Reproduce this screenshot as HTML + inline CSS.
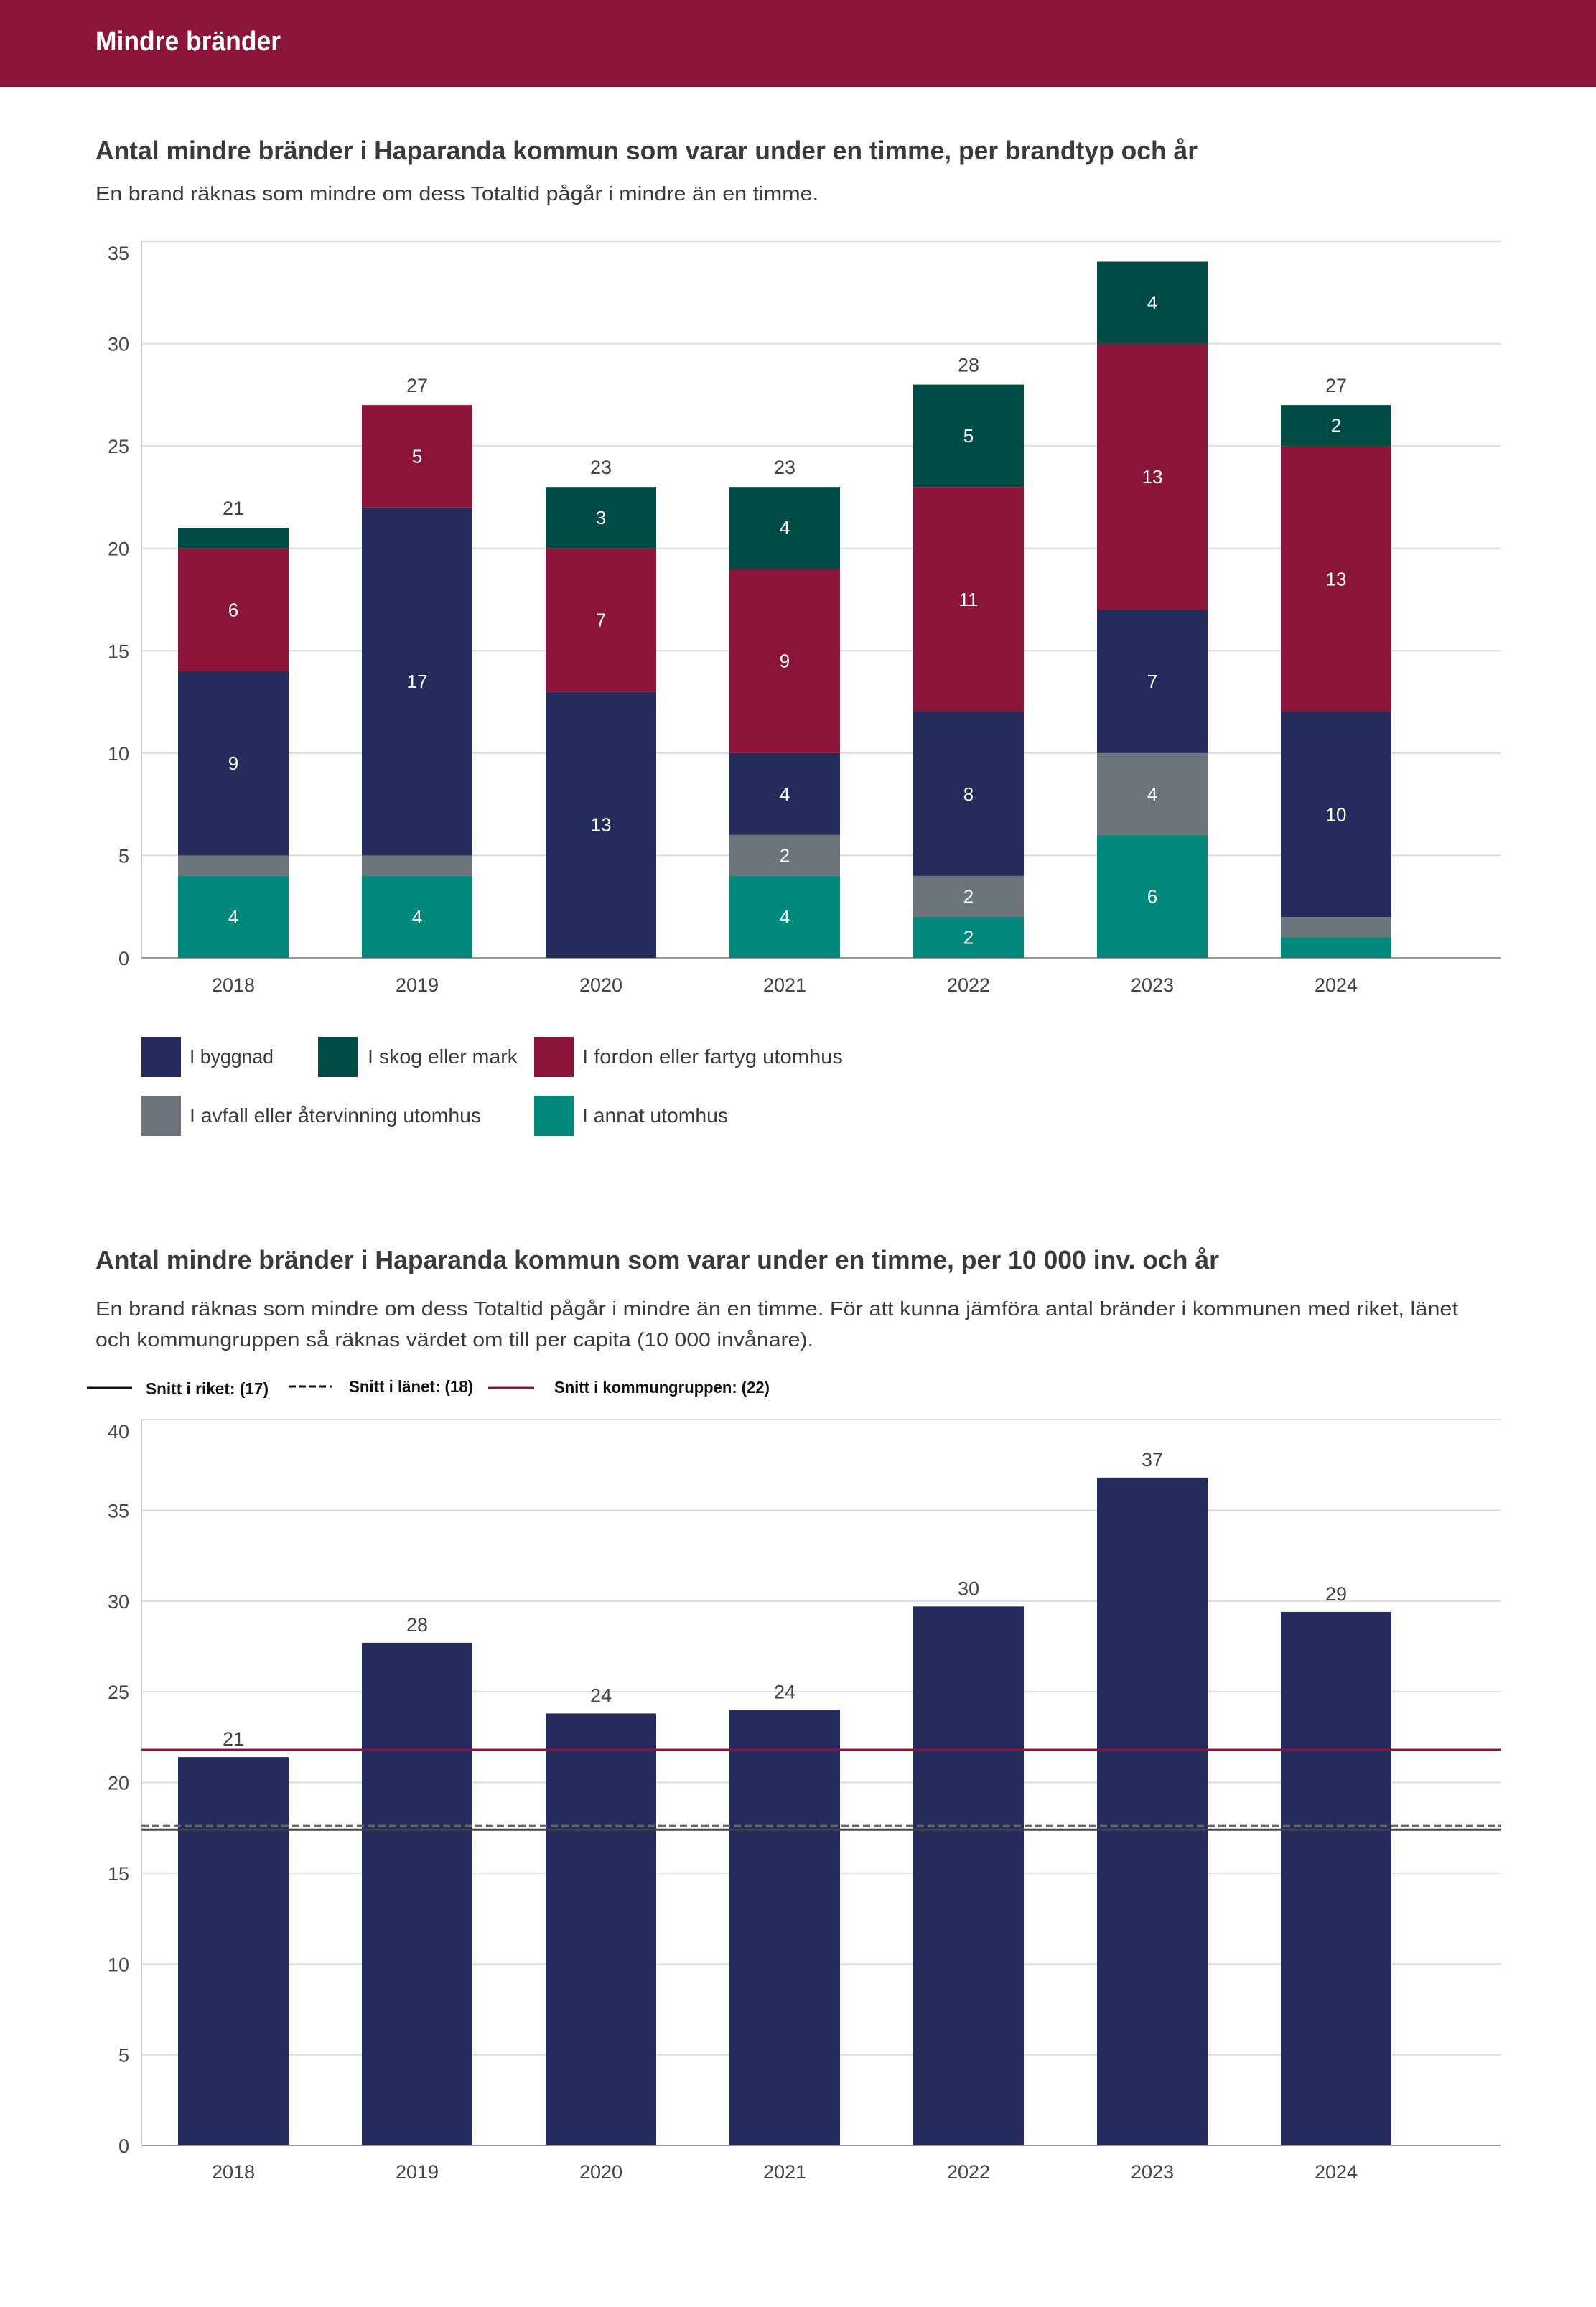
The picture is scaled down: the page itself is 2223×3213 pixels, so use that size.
<!DOCTYPE html>
<html><head><meta charset="utf-8"><style>
html,body{margin:0;padding:0;background:#fff;}
svg{display:block;font-family:"Liberation Sans",sans-serif;}
</style></head><body>
<svg id="page" width="2223" height="3213" viewBox="0 0 2223 3213" xmlns="http://www.w3.org/2000/svg">
<rect x="0" y="0" width="2223" height="121" fill="#8b1538"/>
<text x="133" y="70" font-size="38" font-weight="bold" fill="#fff" textLength="258" lengthAdjust="spacingAndGlyphs">Mindre bränder</text>

<text x="133" y="222" font-size="36" font-weight="bold" fill="#3a3a3a" textLength="1535" lengthAdjust="spacingAndGlyphs">Antal mindre bränder i Haparanda kommun som varar under en timme, per brandtyp och år</text>
<text x="133" y="279" font-size="28" fill="#3a3a3a" textLength="1007" lengthAdjust="spacingAndGlyphs">En brand räknas som mindre om dess Totaltid pågår i mindre än en timme.</text>
<g id="chart1"></g>

<g>
<g><rect x="197" y="1444" width="55" height="56" fill="#252c5c"/><text x="264" y="1481" font-size="28" fill="#3a3a3a" textLength="117" lengthAdjust="spacingAndGlyphs">I byggnad</text></g>
<g><rect x="443" y="1444" width="55" height="56" fill="#004b43"/><text x="512" y="1481" font-size="28" fill="#3a3a3a" textLength="209" lengthAdjust="spacingAndGlyphs">I skog eller mark</text></g>
<g><rect x="744" y="1444" width="55" height="56" fill="#8b1538"/><text x="811" y="1481" font-size="28" fill="#3a3a3a" textLength="363" lengthAdjust="spacingAndGlyphs">I fordon eller fartyg utomhus</text></g>
<g><rect x="197" y="1526" width="55" height="56" fill="#6b737b"/><text x="264" y="1563" font-size="28" fill="#3a3a3a" textLength="406" lengthAdjust="spacingAndGlyphs">I avfall eller återvinning utomhus</text></g>
<g><rect x="744" y="1526" width="55" height="56" fill="#00887a"/><text x="811" y="1563" font-size="28" fill="#3a3a3a" textLength="203" lengthAdjust="spacingAndGlyphs">I annat utomhus</text></g>
</g>

<text x="133" y="1767" font-size="36" font-weight="bold" fill="#3a3a3a" textLength="1565" lengthAdjust="spacingAndGlyphs">Antal mindre bränder i Haparanda kommun som varar under en timme, per 10 000 inv. och år</text>
<text x="133" y="1832" font-size="28" fill="#3a3a3a" textLength="1898" lengthAdjust="spacingAndGlyphs">En brand räknas som mindre om dess Totaltid pågår i mindre än en timme. För att kunna jämföra antal bränder i kommunen med riket, länet</text>
<text x="133" y="1875" font-size="28" fill="#3a3a3a" textLength="1000" lengthAdjust="spacingAndGlyphs">och kommungruppen så räknas värdet om till per capita (10 000 invånare).</text>

<g>
<g><line x1="121" y1="1933" x2="184" y2="1933" stroke="#111" stroke-width="3"/><text x="203" y="1942" font-size="23" font-weight="bold" fill="#111" textLength="171" lengthAdjust="spacingAndGlyphs">Snitt i riket: (17)</text></g>
<g><line x1="403" y1="1931" x2="463" y2="1931" stroke="#111" stroke-width="3" stroke-dasharray="9,5"/><text x="486" y="1939" font-size="23" font-weight="bold" fill="#111" textLength="173" lengthAdjust="spacingAndGlyphs">Snitt i länet: (18)</text></g>
<g><line x1="680" y1="1933" x2="744" y2="1933" stroke="#8b1538" stroke-width="3"/><text x="772" y="1940" font-size="23" font-weight="bold" fill="#111" textLength="300" lengthAdjust="spacingAndGlyphs">Snitt i kommungruppen: (22)</text></g>
</g>
<g id="chart2"></g>
</svg>
<script>
const years = ["2018","2019","2020","2021","2022","2023","2024"];
const annat = [4,4,0,4,2,6,1];
const avfall = [1,1,0,2,2,4,1];
const byggnad = [9,17,13,4,8,7,10];
const fordon = [6,5,7,9,11,13,13];
const skog = [1,0,3,4,5,4,2];
const totalLabels = ["21","27","23","23","28","","27"];
const ticks1 = [0,5,10,15,20,25,30,35];

const perCapita = [21.4,27.7,23.8,24.0,29.7,36.8,29.4];
const perCapitaLabels = ["21","28","24","24","30","37","29"];
const ticks2 = [0,5,10,15,20,25,30,35,40];
const riket = [17.4];
const lanet = [17.6];
const kommungrupp = [21.8];

const NS = "http://www.w3.org/2000/svg";
function mk(tag, attrs, parent){const e=document.createElementNS(NS,tag);for(const k in attrs)e.setAttribute(k,attrs[k]);parent.appendChild(e);return e;}
const plotL=197, plotR=2090, band=256, barW=154;
function xc(i){return plotL+band*(i+0.5);}

// chart 1
const g1=document.getElementById('chart1');
const y1=v=>1334-v*(1334-336)/35;
ticks1.forEach((t,k)=>{
  const l=mk('line',{x1:plotL,x2:plotR,y1:y1(t),y2:y1(t),stroke:t===0?'#999':'#dcdcdc','stroke-width':2},g1);
  
  
  const off=(k===ticks1.length-1)?26:10;
  const tx=mk('text',{x:180,y:y1(t)+off,'font-size':27,fill:'#444','text-anchor':'end'},g1);
  tx.textContent=t;
  
  
});
const ax1=mk('line',{x1:plotL,x2:plotL,y1:336,y2:1334,stroke:'#ccc','stroke-width':2},g1);


const series=[["annat",annat,"#00887a"],["avfall",avfall,"#6b737b"],["byggnad",byggnad,"#252c5c"],["fordon",fordon,"#8b1538"],["skog",skog,"#004b43"]];
years.forEach((yr,i)=>{
  let base=0;
  series.forEach(([nm,arr,col])=>{
    const v=arr[i];
    if(v>0){
      const r=mk('rect',{x:xc(i)-barW/2,y:y1(base+v),width:barW,height:y1(base)-y1(base+v),fill:col},g1);
      
      
      if(v>=2){
        const t=mk('text',{x:xc(i),y:(y1(base)+y1(base+v))/2+9,'font-size':26,fill:'#fff','text-anchor':'middle'},g1);
        t.textContent=v;
        
        
      }
    }
    base+=v;
  });
  if(totalLabels[i]){
    const t=mk('text',{x:xc(i),y:y1(base)-18,'font-size':27,fill:'#444','text-anchor':'middle'},g1);
    t.textContent=totalLabels[i];
    
    
  }
  const xl=mk('text',{x:xc(i),y:1381,'font-size':27,fill:'#444','text-anchor':'middle'},g1);
  xl.textContent=yr;
  
  
});

// chart 2
const g2=document.getElementById('chart2');
const y2=v=>2988-v*(2988-1977)/40;
ticks2.forEach((t,k)=>{
  const l=mk('line',{x1:plotL,x2:plotR,y1:y2(t),y2:y2(t),stroke:t===0?'#999':'#dcdcdc','stroke-width':2},g2);
  
  
  const off=(k===ticks2.length-1)?26:10;
  const tx=mk('text',{x:180,y:y2(t)+off,'font-size':27,fill:'#444','text-anchor':'end'},g2);
  tx.textContent=t;
  
  
});
const ax2=mk('line',{x1:plotL,x2:plotL,y1:1977,y2:2988,stroke:'#ccc','stroke-width':2},g2);


years.forEach((yr,i)=>{
  const v=perCapita[i];
  const r=mk('rect',{x:xc(i)-barW/2,y:y2(v),width:barW,height:y2(0)-y2(v),fill:'#252c5c'},g2);
  
  
  const t=mk('text',{x:xc(i),y:y2(v)-16,'font-size':27,fill:'#444','text-anchor':'middle'},g2);
  t.textContent=perCapitaLabels[i];
  
  
  const xl=mk('text',{x:xc(i),y:3034,'font-size':27,fill:'#444','text-anchor':'middle'},g2);
  xl.textContent=yr;
  
  
});
const rl=mk('line',{x1:plotL,x2:plotR,y1:y2(riket[0]),y2:y2(riket[0]),stroke:'#444','stroke-width':3},g2);


const ll=mk('line',{x1:plotL,x2:plotR,y1:y2(lanet[0]),y2:y2(lanet[0]),stroke:'#666','stroke-width':3,'stroke-dasharray':'10,5'},g2);


const kl=mk('line',{x1:plotL,x2:plotR,y1:y2(kommungrupp[0]),y2:y2(kommungrupp[0]),stroke:'#8b1538','stroke-width':3},g2);


</script>
</body></html>
